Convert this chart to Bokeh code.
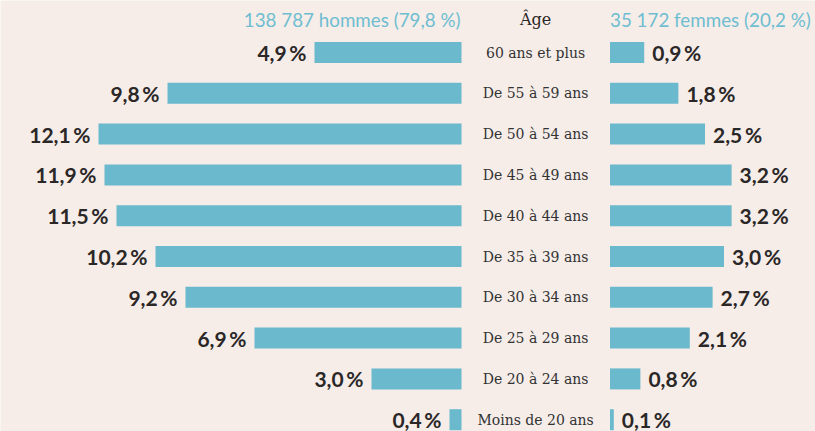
from bokeh.plotting import figure
from bokeh.models import Range1d, ColumnDataSource
from bokeh.core.properties import value
from bokeh.embed import file_html
from bokeh.resources import INLINE

# ---- data ----
ages = ["60 ans et plus", "De 55 à 59 ans", "De 50 à 54 ans", "De 45 à 49 ans",
        "De 40 à 44 ans", "De 35 à 39 ans", "De 30 à 34 ans", "De 25 à 29 ans",
        "De 20 à 24 ans", "Moins de 20 ans"]
hommes = [4.9, 9.8, 12.1, 11.9, 11.5, 10.2, 9.2, 6.9, 3.0, 0.4]
femmes = [0.9, 1.8, 2.5, 3.2, 3.2, 3.0, 2.7, 2.1, 0.8, 0.1]
titre_hommes = "138 787 hommes (79,8 %)"
titre_femmes = "35 172 femmes (20,2 %)"
titre_age = "Âge"

def fmt(v):
    return f"{v:.1f}".replace(".", ",") + "\u2009%"

BG = "#f6ede9"
BAR = "#6bb9cd"
HEAD = "#6fbdd1"
DARK = "#2b2727"

W, H = 815, 431
rows = list(range(len(ages)))

src = ColumnDataSource(dict(
    y=rows,
    age=ages,
    h=hommes,
    hneg=[-v for v in hommes],
    f=femmes,
    hl=[fmt(v) for v in hommes],
    fl=[fmt(v) for v in femmes],
))

p = figure(width=W, height=H, output_backend="svg", toolbar_location=None,
           x_range=Range1d(-15.367, 11.8), y_range=Range1d(9.289, -1.2745),
           min_border=0, background_fill_color=BG, border_fill_color=BG,
           outline_line_color=None)
p.axis.visible = False
p.grid.visible = False
p.extra_x_ranges = {"f": Range1d(-16.04, 5.408)}

BH = 0.515
p.hbar(y="y", left="hneg", right=0, height=BH, source=src, fill_color=BAR,
       line_color=None)
p.hbar(y="y", left=0, right="f", height=BH, source=src, fill_color=BAR,
       line_color=None, x_range_name="f")

p.text(x="hneg", y="y", text="hl", source=src, x_offset=-8, text_align="right",
       text_baseline="middle", text_font=value("Lato"), text_font_style="bold",
       text_font_size="21px", text_color=DARK)
p.text(x="f", y="y", text="fl", source=src, x_offset=8, text_align="left",
       text_baseline="middle", text_font=value("Lato"), text_font_style="bold",
       text_font_size="21px", text_color=DARK, x_range_name="f")

LX = 2.47
p.text(x=LX, y="y", text="age", source=src, text_align="center",
       text_baseline="middle", text_font=value("DejaVu Serif"),
       text_font_size="14px", text_color="#333")

HY = -0.80
p.text(x=[0], y=[HY], text=[titre_hommes], x_offset=-1, text_align="right",
       text_baseline="middle", text_font=value("Lato"), text_font_size="18.8px",
       text_color=HEAD)
p.text(x=[0], y=[HY], text=[titre_femmes], text_align="left",
       text_baseline="middle", text_font=value("Lato"), text_font_size="18.8px",
       text_color=HEAD, x_range_name="f")
p.text(x=[LX], y=[HY], text=[titre_age], text_align="center",
       text_baseline="middle", text_font=value("DejaVu Serif"),
       text_font_size="16px", text_color=DARK)

open("out.html", "w").write(file_html(p, INLINE))
